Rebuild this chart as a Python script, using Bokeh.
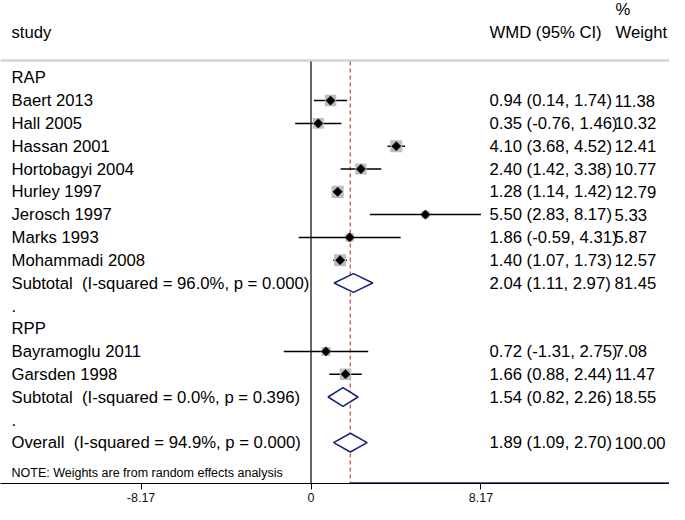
from bokeh.plotting import figure
from bokeh.models import Range1d, FixedTicker, ColumnDataSource
from bokeh.core.properties import value
from bokeh.embed import file_html
from bokeh.resources import INLINE
import math

# ---------------- data ----------------
groups = ["RAP", "RPP"]
studies = ["Baert 2013", "Hall 2005", "Hassan 2001", "Hortobagyi 2004", "Hurley 1997",
           "Jerosch 1997", "Marks 1993", "Mohammadi 2008", "Bayramoglu 2011", "Garsden 1998"]
study_group = ["RAP", "RAP", "RAP", "RAP", "RAP", "RAP", "RAP", "RAP", "RPP", "RPP"]
wmd = [0.94, 0.35, 4.10, 2.40, 1.28, 5.50, 1.86, 1.40, 0.72, 1.66]
ci_lo = [0.14, -0.76, 3.68, 1.42, 1.14, 2.83, -0.59, 1.07, -1.31, 0.88]
ci_hi = [1.74, 1.46, 4.52, 3.38, 1.42, 8.17, 4.31, 1.73, 2.75, 2.44]
weight = [11.38, 10.32, 12.41, 10.77, 12.79, 5.33, 5.87, 12.57, 7.08, 11.47]

sub_labels = ["Subtotal  (I-squared = 96.0%, p = 0.000)",
              "Subtotal  (I-squared = 0.0%, p = 0.396)"]
sub_est = [2.04, 1.54]
sub_lo = [1.11, 0.82]
sub_hi = [2.97, 2.26]
sub_weight = [81.45, 18.55]

overall_label = "Overall  (I-squared = 94.9%, p = 0.000)"
overall_est = 1.89
overall_lo = 1.09
overall_hi = 2.70
overall_weight = 100.00

x_ticks = [-8.17, 0, 8.17]
x_tick_labels = ["-8.17", "0", "8.17"]
note = "NOTE: Weights are from random effects analysis"

# ---------------- layout ----------------
W, H = 669, 504
X0_PX = 310.5          # canvas px of WMD = 0
PX_PER_UNIT = 20.8
ROW0_PX = 77.3         # canvas px of first row centre
ROW_PX = 22.8
AXIS_PX = 483          # canvas px of x axis line
FONT = "Liberation Sans"
FS = "16.7px"
NAVY = "#1b237a"
RED = "#c05a4e"

def px_x(px):
    return (px - X0_PX) / PX_PER_UNIT

def px_y(py):
    return -(py - ROW0_PX) / ROW_PX

def keep_spaces(s):
    return s.replace("  ", " \u00a0")

xr = Range1d(px_x(0), px_x(W))
yr = Range1d(px_y(AXIS_PX), px_y(0))

p = figure(width=W, height=H, x_range=xr, y_range=yr, output_backend="svg",
           toolbar_location=None, title=None, y_axis_location=None,
           min_border_left=0, min_border_right=0, min_border_top=0,
           min_border_bottom=H - AXIS_PX, outline_line_color=None,
           background_fill_color="white", border_fill_color="white")
p.xgrid.visible = False
p.ygrid.visible = False

ax = p.xaxis[0]
ax.ticker = FixedTicker(ticks=x_ticks)
ax.major_label_overrides = {t: l for t, l in zip(x_ticks, x_tick_labels)}
ax.axis_line_color = "black"
ax.axis_line_width = 1.2
ax.major_tick_line_color = "black"
ax.major_tick_out = 6
ax.major_tick_in = 0
ax.minor_tick_out = 0
ax.minor_tick_in = 0
ax.major_label_standoff = 3
ax.major_label_text_font = FONT
ax.major_label_text_font_size = "12.5px"
ax.major_label_text_color = "#111111"

# ---------------- rows ----------------
rows = []  # (kind, label, est, lo, hi, w)
for gi, g in enumerate(groups):
    rows.append(("group", g, None, None, None, None))
    for s, sg, e, l, h, w in zip(studies, study_group, wmd, ci_lo, ci_hi, weight):
        if sg == g:
            rows.append(("study", s, e, l, h, w))
    rows.append(("pooled", sub_labels[gi], sub_est[gi], sub_lo[gi], sub_hi[gi], sub_weight[gi]))
    rows.append(("dot", ".", None, None, None, None))
rows.append(("pooled", overall_label, overall_est, overall_lo, overall_hi, overall_weight))

row_y = [-i for i in range(len(rows))]

# header separator
header_line_px = 60
p.segment(x0=[xr.start], x1=[xr.end], y0=[px_y(header_line_px)], y1=[px_y(header_line_px)],
          line_color="#d4d4d4", line_width=2.5)

# no-effect line and overall dashed line
p.segment(x0=[0], x1=[0], y0=[px_y(header_line_px + 1)], y1=[yr.start],
          line_color="black", line_width=1.2)
p.segment(x0=[overall_est], x1=[overall_est], y0=[px_y(header_line_px + 1)], y1=[yr.start],
          line_color=RED, line_width=1.3, line_dash="4 3")

# navy part of the axis line right of the overall estimate
p.segment(x0=[overall_est], x1=[xr.end], y0=[yr.start + 0.02], y1=[yr.start + 0.02],
          line_color=NAVY, line_width=1.6)

# studies
st = [(y, r) for y, r in zip(row_y, rows) if r[0] == "study"]
src = ColumnDataSource(dict(
    y=[y for y, r in st], est=[r[2] for y, r in st], lo=[r[3] for y, r in st],
    hi=[r[4] for y, r in st], sq=[3.4 * math.sqrt(r[5]) for y, r in st]))
p.segment(x0="lo", x1="hi", y0="y", y1="y", source=src, line_color="black", line_width=1.5)
p.scatter(x="est", y="y", size="sq", marker="square", source=src,
          fill_color="#bdbdbd", line_color=None)
p.scatter(x="est", y="y", size=6.6, marker="square", angle=math.pi / 4, source=src,
          fill_color="black", line_color="black", line_width=0.5)

# pooled diamonds
pl = [(y, r) for y, r in zip(row_y, rows) if r[0] == "pooled"]
half = 0.41
p.patches(xs=[[r[3], r[2], r[4], r[2]] for y, r in pl],
          ys=[[y, y + half, y, y - half] for y, r in pl],
          fill_color="white", line_color=NAVY, line_width=1.6)

text_kw = dict(text_font=value(FONT), text_font_size=FS, text_baseline="middle",
               text_align="left", text_color="black")

# left labels
left_x = px_x(11)
p.text(x=[left_x] * len(rows), y=row_y, text=[keep_spaces(r[1]) for r in rows], **text_kw)

# right columns
num = [(y, r) for y, r in zip(row_y, rows) if r[2] is not None]
p.text(x=[px_x(489)] * len(num), y=[y for y, r in num],
       text=["%.2f (%.2f, %.2f)" % (r[2], r[3], r[4]) for y, r in num], **text_kw)
p.text(x=[px_x(614)] * len(num), y=[y for y, r in num],
       text=["%.2f" % r[5] for y, r in num], **text_kw)

# headers
p.text(x=[left_x, px_x(489), px_x(615)], y=[px_y(32)] * 3,
       text=["study", "WMD (95% CI)", "Weight"], **text_kw)
p.text(x=[px_x(615)], y=[px_y(8.5)], text=["%"], **text_kw)

# note
p.text(x=[left_x], y=[px_y(472)], text=[note],
       text_font=value(FONT), text_font_size="12.5px", text_baseline="middle",
       text_align="left", text_color="black")

open("out.html", "w").write(file_html(p, INLINE))
